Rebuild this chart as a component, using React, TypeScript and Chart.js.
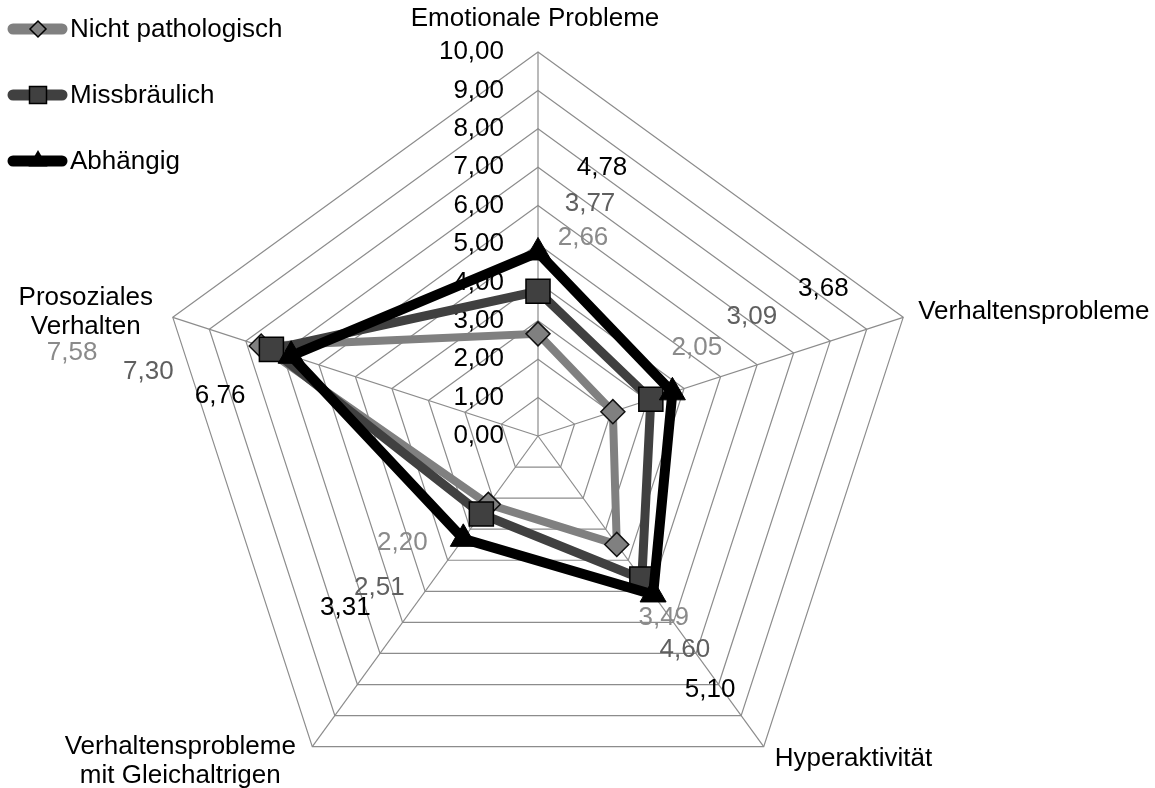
import React, { useEffect, useRef } from 'react';
import { Chart, registerables } from 'chart.js';

Chart.register(...registerables);

// ---- data ----
const categories = [
  'Emotionale Probleme',
  'Verhaltensprobleme',
  'Hyperaktivität',
  'Verhaltensprobleme mit Gleichaltrigen',
  'Prosoziales Verhalten',
];
const categoryLines = [
  ['Emotionale Probleme'],
  ['Verhaltensprobleme'],
  ['Hyperaktivität'],
  ['Verhaltensprobleme', 'mit Gleichaltrigen'],
  ['Prosoziales', 'Verhalten'],
];
const seriesNames = ['Nicht pathologisch', 'Missbräulich', 'Abhängig'];
const nichtPathologisch = [2.66, 2.05, 3.49, 2.2, 7.58];
const missbraeuchlich = [3.77, 3.09, 4.6, 2.51, 7.3];
const abhaengig = [4.78, 3.68, 5.1, 3.31, 6.76];
const tickValues = [0, 1, 2, 3, 4, 5, 6, 7, 8, 9, 10];

// ---- styling ----
const FONT = '26px "Liberation Sans", Arial, sans-serif';
const lineColors = ['#808080', '#404040', '#000000'];
const labelColors = ['#8a8a8a', '#5f5f5f', '#000000'];
const lineWidths = [8, 9, 10];
const legendLineWidths = [11, 11, 11];
// data label offsets (px) relative to each point, per series
const labelOffsets = [
  [[45, -96], [84, -64], [47, 73], [-86, 38], [-189, 7]],
  [[52, -87], [101, -83], [43, 71], [-102, 74], [-123, 22]],
  [[64, -85], [151, -104], [57, 95], [-118, 69], [-71, 40]],
];
// point-label placement relative to the outer vertex
const pointLabelPlacement: [number, number, CanvasTextAlign][] = [
  [-3, -33, 'center'],
  [15, -6, 'left'],
  [11, 12, 'left'],
  [-132, 0, 'center'],
  [-87, -20, 'center'],
];

const fmt = (v: number) => v.toFixed(2).replace('.', ',');

function drawMarker(ctx: CanvasRenderingContext2D, kind: number, x: number, y: number, s: number) {
  ctx.beginPath();
  if (kind === 0) {
    ctx.moveTo(x - s, y);
    ctx.lineTo(x, y - s);
    ctx.lineTo(x + s, y);
    ctx.lineTo(x, y + s);
    ctx.closePath();
    ctx.fillStyle = '#808080';
    ctx.strokeStyle = '#000';
    ctx.lineWidth = 1.5;
    ctx.fill();
    ctx.stroke();
  } else if (kind === 1) {
    ctx.rect(x - s, y - s, 2 * s, 2 * s);
    ctx.fillStyle = '#404040';
    ctx.strokeStyle = '#000';
    ctx.lineWidth = 1.5;
    ctx.fill();
    ctx.stroke();
  } else {
    ctx.moveTo(x, y - s);
    ctx.lineTo(x + s * 0.866, y + s * 0.5);
    ctx.lineTo(x - s * 0.866, y + s * 0.5);
    ctx.closePath();
    ctx.fillStyle = '#000';
    ctx.fill();
  }
}

const customPlugin = {
  id: 'customDecor',
  beforeDatasetsDraw(chart: any) {
    const ctx: CanvasRenderingContext2D = chart.ctx;
    const r = chart.scales.r;
    ctx.save();
    ctx.font = FONT;
    ctx.textBaseline = 'middle';
    ctx.textAlign = 'right';
    ctx.fillStyle = '#000';
    for (const t of tickValues) {
      const y = r.yCenter - r.getDistanceFromCenterForValue(t);
      ctx.fillText(fmt(t), r.xCenter - 34, y);
    }
    ctx.textAlign = 'center';
    chart.data.datasets.forEach((ds: any, di: number) => {
      const meta = chart.getDatasetMeta(di);
      ctx.fillStyle = labelColors[di];
      meta.data.forEach((pt: any, i: number) => {
        const [dx, dy] = labelOffsets[di][i];
        ctx.fillText(fmt(ds.data[i]), pt.x + dx, pt.y + dy);
      });
    });
    ctx.restore();
  },
  afterDraw(chart: any) {
    const ctx: CanvasRenderingContext2D = chart.ctx;
    const r = chart.scales.r;
    ctx.save();
    ctx.font = FONT;
    ctx.textBaseline = 'middle';
    ctx.fillStyle = '#000';
    categoryLines.forEach((lines, i) => {
      const p = r.getPointPosition(i, r.drawingArea);
      const [dx, dy, align] = pointLabelPlacement[i];
      ctx.textAlign = align;
      lines.forEach((ln, k) => {
        ctx.fillText(ln, p.x + dx, p.y + dy + k * 29);
      });
    });
    // legend
    seriesNames.forEach((name, i) => {
      const y = 29 + i * 66;
      ctx.beginPath();
      ctx.lineCap = 'round';
      ctx.strokeStyle = lineColors[i];
      ctx.lineWidth = legendLineWidths[i];
      ctx.moveTo(13, y);
      ctx.lineTo(62, y);
      ctx.stroke();
      drawMarker(ctx, i, 38, y, i === 0 ? 8 : i === 1 ? 8.5 : 11);
      ctx.fillStyle = '#000';
      ctx.textAlign = 'left';
      ctx.fillText(name, 70, y + 1);
    });
    ctx.restore();
  },
};

export default function App() {
  const ref = useRef<HTMLCanvasElement>(null);
  useEffect(() => {
    if (!ref.current) return;
    const chart = new Chart(ref.current, {
      type: 'radar',
      data: {
        labels: categories,
        datasets: [
          {
            label: seriesNames[0],
            data: nichtPathologisch,
            borderColor: lineColors[0],
            borderWidth: lineWidths[0],
            fill: false,
            pointStyle: 'rectRot',
            pointRadius: 12,
            pointBackgroundColor: '#808080',
            pointBorderColor: '#111',
            pointBorderWidth: 1.5,
            order: 2,
          },
          {
            label: seriesNames[1],
            data: missbraeuchlich,
            borderColor: lineColors[1],
            borderWidth: lineWidths[1],
            fill: false,
            pointStyle: 'rect',
            pointRadius: 17,
            pointBackgroundColor: '#404040',
            pointBorderColor: '#000',
            pointBorderWidth: 1.5,
            order: 1,
          },
          {
            label: seriesNames[2],
            data: abhaengig,
            borderColor: lineColors[2],
            borderWidth: lineWidths[2],
            fill: false,
            pointStyle: 'triangle',
            pointRadius: 15,
            pointBackgroundColor: '#000',
            pointBorderColor: '#000',
            pointBorderWidth: 1,
            order: 0,
          },
        ],
      } as any,
      options: {
        responsive: false,
        animation: false,
        layout: { padding: 0 },
        elements: { line: { tension: 0 } },
        plugins: { legend: { display: false }, tooltip: { enabled: false } },
        scales: {
          r: {
            min: 0,
            max: 10,
            ticks: { display: false, stepSize: 1 },
            pointLabels: { display: false },
            grid: { color: '#8c8c8c', lineWidth: 1.2 },
            angleLines: { color: '#8c8c8c', lineWidth: 1.2 },
            afterFit: (s: any) => {
              s.xCenter = 538;
              s.yCenter = 436;
              s.drawingArea = 384;
            },
          } as any,
        },
      },
      plugins: [customPlugin],
    });
    return () => chart.destroy();
  }, []);
  return (
    <div style={{ position: 'absolute', left: 0, top: 0, width: 1155, height: 788, background: '#fff' }}>
      <canvas ref={ref} width={1155} height={788} style={{ display: 'block' }} />
    </div>
  );
}
